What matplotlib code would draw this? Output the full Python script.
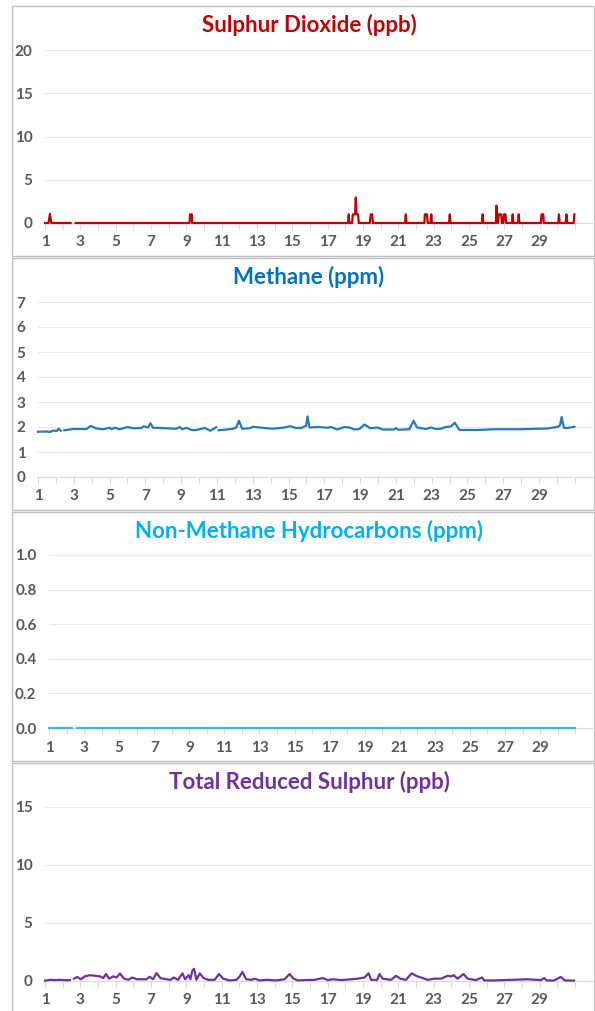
import matplotlib
matplotlib.use("Agg")
import matplotlib.pyplot as plt
from matplotlib.patches import Rectangle
import numpy as np

plt.rcParams['font.family'] = ['Lato', 'DejaVu Sans']

nan = np.nan

# Sulphur Dioxide (ppb) - day of month, value
so2_day = [1.00, 1.20, 1.28, 1.36, 2.45, 2.46, 2.73, 9.18, 9.21, 9.25, 9.30, 9.33,
           18.15, 18.19, 18.23, 18.38, 18.42, 18.55, 18.59, 18.63, 18.72, 18.76,
           19.38, 19.44, 19.52, 19.56, 21.38, 21.42, 21.46, 22.47, 22.50, 22.62, 22.66,
           22.82, 22.86, 22.90, 23.87, 23.91, 23.95, 25.73, 25.77, 25.81,
           26.52, 26.55, 26.59, 26.64, 26.68, 26.82, 26.86, 26.94, 26.98, 27.06, 27.10,
           27.43, 27.47, 27.51, 27.77, 27.81, 27.85, 29.07, 29.10, 29.20, 29.23,
           30.05, 30.09, 30.13, 30.47, 30.51, 30.55, 30.92, 30.96]
so2_val = [0, 0, 1.05, 0, 0, nan, 0, 0, 1.0, 0.7, 1.0, 0,
           0, 1.0, 0, 0, 1.0, 1.0, 2.95, 1.0, 1.0, 0,
           0, 1.0, 1.0, 0, 0, 1.0, 0, 0, 1.0, 1.0, 0,
           0, 1.0, 0, 0, 1.0, 0, 0, 1.0, 0,
           0, 2.0, 1.0, 0, 1.0, 1.0, 0, 0, 1.0, 1.0, 0,
           0, 1.0, 0, 0, 1.0, 0, 0, 1.0, 1.0, 0,
           0, 1.0, 0, 0, 1.0, 0, 0, 1.0]

# Methane (ppm)
ch4_day = [1.00, 1.48, 1.67, 1.86, 2.04, 2.15, 2.28, 2.30, 2.47, 2.97, 3.71, 3.94,
           4.27, 4.64, 5.01, 5.11, 5.29, 5.57, 6.00, 6.32, 6.78, 6.91, 7.15, 7.28,
           7.43, 8.17, 8.73, 8.92, 9.07, 9.29, 9.57, 9.85, 10.31, 10.63, 10.96, 11.00,
           11.09, 11.43, 11.89, 12.08, 12.23, 12.41, 12.82, 13.04, 13.38, 14.12, 14.68,
           15.09, 15.42, 15.71, 15.98, 16.06, 16.17, 16.64, 17.19, 17.38, 17.71, 18.12,
           18.40, 18.68, 18.96, 19.24, 19.57, 19.98, 20.26, 20.91, 21.00, 21.13, 21.75,
           21.99, 22.18, 22.68, 22.96, 23.24, 23.51, 23.79, 24.07, 24.29, 24.55, 25.56,
           26.49, 27.98, 28.35, 29.46, 30.02, 30.17, 30.26, 30.39, 30.57, 30.98]
ch4_val = [1.81, 1.82, 1.80, 1.86, 1.84, 1.93, 1.85, nan, 1.87, 1.92, 1.92, 2.04,
           1.94, 1.91, 1.97, 1.91, 1.97, 1.91, 2.00, 1.95, 1.96, 2.03, 1.98, 2.15,
           1.97, 1.95, 1.93, 2.00, 1.91, 1.97, 1.88, 1.88, 1.96, 1.85, 1.99, nan,
           1.87, 1.89, 1.93, 1.98, 2.25, 1.93, 1.95, 2.01, 1.98, 1.93, 1.97,
           2.03, 1.96, 1.96, 2.05, 2.42, 1.98, 2.00, 1.97, 2.00, 1.90, 2.00,
           1.98, 1.90, 1.92, 2.10, 1.95, 1.98, 1.90, 1.90, 1.96, 1.89, 1.91,
           2.25, 1.98, 1.92, 1.98, 1.92, 1.93, 2.00, 2.02, 2.17, 1.88, 1.88,
           1.91, 1.91, 1.92, 1.94, 2.00, 2.06, 2.40, 1.97, 1.96, 2.01]

# Non-Methane Hydrocarbons (ppm)
nmhc_day = [1.00, 2.33, 2.34, 2.60, 30.98]
nmhc_val = [0.0, 0.0, nan, 0.0, 0.0]

# Total Reduced Sulphur (ppb)
trs_day = [1.00, 1.28, 1.56, 1.85, 2.22, 2.41, 2.50, 2.64, 2.83, 3.02, 3.26, 3.54,
           3.82, 4.11, 4.30, 4.45, 4.63, 4.86, 5.05, 5.24, 5.46, 5.71, 5.93, 6.22,
           6.74, 6.93, 7.12, 7.31, 7.53, 7.87, 8.10, 8.29, 8.53, 8.78, 8.93, 9.12,
           9.23, 9.34, 9.44, 9.57, 9.76, 9.98, 10.23, 10.60, 10.85, 11.08, 11.45,
           11.83, 12.02, 12.17, 12.39, 12.68, 12.86, 13.15, 13.52, 14.09, 14.56,
           14.84, 15.07, 15.31, 15.69, 16.25, 16.73, 17.00, 17.30, 17.76, 18.33,
           18.70, 19.08, 19.31, 19.46, 19.80, 19.93, 20.11, 20.59, 20.87, 21.11,
           21.43, 21.75, 22.00, 22.28, 22.66, 23.03, 23.41, 23.79, 23.98, 24.13,
           24.35, 24.69, 24.92, 25.39, 25.73, 25.86, 26.42, 27.37, 28.31, 29.07,
           29.25, 29.40, 29.82, 30.19, 30.42, 30.94]
trs_val = [0.03, 0.10, 0.08, 0.10, 0.07, 0.08, nan, 0.20, 0.35, 0.15, 0.40, 0.50,
           0.45, 0.40, 0.25, 0.60, 0.20, 0.40, 0.30, 0.65, 0.22, 0.10, 0.30, 0.15,
           0.15, 0.37, 0.15, 0.68, 0.25, 0.15, 0.10, 0.30, 0.10, 0.66, 0.15, 0.50,
           0.15, 0.90, 1.05, 0.10, 0.65, 0.25, 0.10, 0.10, 0.60, 0.20, 0.05,
           0.10, 0.40, 0.78, 0.15, 0.10, 0.20, 0.05, 0.10, 0.05, 0.15,
           0.60, 0.20, 0.05, 0.08, 0.10, 0.25, 0.08, 0.15, 0.08, 0.15,
           0.20, 0.30, 0.66, 0.10, 0.10, 0.60, 0.20, 0.10, 0.45, 0.20,
           0.10, 0.66, 0.45, 0.30, 0.10, 0.20, 0.20, 0.45, 0.40, 0.50,
           0.20, 0.60, 0.20, 0.08, 0.30, 0.05, 0.05, 0.10, 0.15, 0.08,
           0.25, 0.05, 0.05, 0.35, 0.05, 0.03]

day_labels = [str(d) for d in range(1, 30, 2)]

W, H = 595, 1011
fig = plt.figure(figsize=(W / 100, H / 100), dpi=100)

# panel frames: (top, bottom) in pixels
frames = [(6, 256), (258, 510), (512, 761), (763, 1012)]
for top, bot in frames:
    fig.patches.append(Rectangle((12 / W, 1 - bot / H), 582 / W, (bot - top) / H,
                                 transform=fig.transFigure, fill=False,
                                 edgecolor='#BFBFBF', lw=1.0))

panels = [
    dict(title='Sulphur Dioxide (ppb)', tcol='#C00000', lcol='#C00000', x=so2_day, y=so2_val,
         box=(45, 50, 223), ylim=(0, 20), yt=[0, 5, 10, 15, 20], fmt='{:.0f}', ty=25),
    dict(title='Methane (ppm)', tcol='#0070C0', lcol='#2878BE', x=ch4_day, y=ch4_val,
         box=(38, 302, 477), ylim=(0, 7), yt=list(range(8)), fmt='{:.0f}', ty=277),
    dict(title='Non-Methane Hydrocarbons (ppm)', tcol='#00B0F0', lcol='#3DB8DC', x=nmhc_day, y=nmhc_val,
         box=(49, 555, 728), ylim=(0, 1), yt=[0, 0.2, 0.4, 0.6, 0.8, 1.0], fmt='{:.1f}', ty=531),
    dict(title='Total Reduced Sulphur (ppb)', tcol='#7030A0', lcol='#7030A0', x=trs_day, y=trs_val,
         box=(45, 807, 981), ylim=(0, 15), yt=[0, 5, 10, 15], fmt='{:.0f}', ty=782),
]

for p in panels:
    left, top, bot = p['box']
    ax = fig.add_axes([left / W, 1 - bot / H, (592 - left) / W, (bot - top) / H])
    ax.plot(p['x'], p['y'], color=p['lcol'], lw=1.6, zorder=5, clip_on=False)
    ax.set_xlim(1, 1 + 743 / 24)
    ax.set_ylim(*p['ylim'])
    ax.set_yticks(p['yt'])
    ax.set_yticklabels([p['fmt'].format(v) for v in p['yt']])
    ax.set_xticks(range(1, 32))
    ax.set_xticklabels([str(d) if d % 2 == 1 and d < 30 else '' for d in range(1, 32)])
    for s in ['top', 'right', 'left']:
        ax.spines[s].set_visible(False)
    ax.spines['bottom'].set_color('#D9D9D9')
    ax.spines['bottom'].set_zorder(1)
    ax.grid(axis='y', color='#E8E8E8', lw=0.8)
    ax.set_axisbelow(True)
    ax.tick_params(axis='y', length=0, pad=9, labelsize=11, labelcolor='#595959')
    ax.tick_params(axis='x', length=4, color='#D9D9D9', pad=5, labelsize=11, labelcolor='#595959')
    for lab in ax.get_xticklabels() + ax.get_yticklabels():
        lab.set_fontweight('bold')
    fig.text(309 / W, 1 - p['ty'] / H, p['title'], color=p['tcol'], fontsize=16,
             fontweight='bold', ha='center', va='center')

fig.savefig('out.png', dpi=100)
